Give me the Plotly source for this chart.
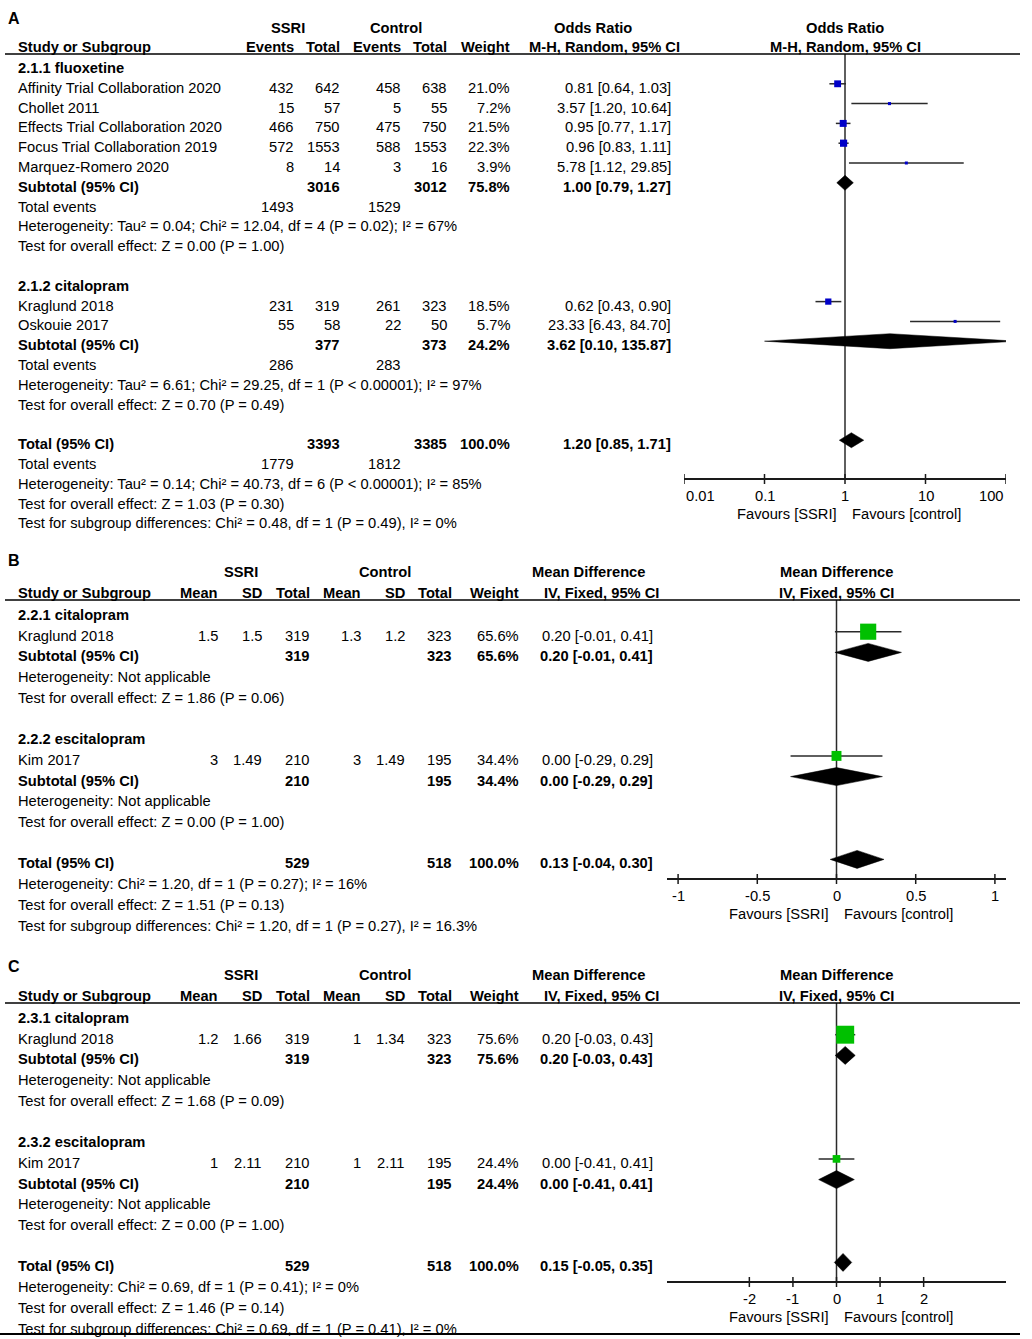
import math
import plotly.graph_objects as go

W, H = 1032, 1339
FONT = "Arial, 'Liberation Sans', sans-serif"
FS = 14.7

# ---------------- A: odds ratio (events) ----------------
a_subgroups = ["2.1.1 fluoxetine", "2.1.2 citalopram"]
a_studies = ["Affinity Trial Collaboration 2020", "Chollet 2011", "Effects Trial Collaboration 2020",
             "Focus Trial Collaboration 2019", "Marquez-Romero 2020", "Kraglund 2018", "Oskouie 2017"]
a_group = [0, 0, 0, 0, 0, 1, 1]
a_ssri_events = [432, 15, 466, 572, 8, 231, 55]
a_ssri_total = [642, 57, 750, 1553, 14, 319, 58]
a_ctrl_events = [458, 5, 475, 588, 3, 261, 22]
a_ctrl_total = [638, 55, 750, 1553, 16, 323, 50]
a_weight = [21.0, 7.2, 21.5, 22.3, 3.9, 18.5, 5.7]
a_or = [0.81, 3.57, 0.95, 0.96, 5.78, 0.62, 23.33]
a_lo = [0.64, 1.20, 0.77, 0.83, 1.12, 0.43, 6.43]
a_hi = [1.03, 10.64, 1.17, 1.11, 29.85, 0.90, 84.70]

a_sub_ssri_total = [3016, 377]
a_sub_ctrl_total = [3012, 373]
a_sub_weight = [75.8, 24.2]
a_sub_ssri_events = [1493, 286]
a_sub_ctrl_events = [1529, 283]
a_sub_or = [1.00, 3.62]
a_sub_lo = [0.79, 0.10]
a_sub_hi = [1.27, 135.87]
a_sub_notes = [
    ["Heterogeneity: Tau² = 0.04; Chi² = 12.04, df = 4 (P = 0.02); I² = 67%",
     "Test for overall effect: Z = 0.00 (P = 1.00)"],
    ["Heterogeneity: Tau² = 6.61; Chi² = 29.25, df = 1 (P &lt; 0.00001); I² = 97%",
     "Test for overall effect: Z = 0.70 (P = 0.49)"],
]
a_tot_vals = [3393, 3385, 100.0]
a_tot_events = [1779, 1812]
a_tot_or, a_tot_lo, a_tot_hi = 1.20, 0.85, 1.71
a_tot_notes = ["Heterogeneity: Tau² = 0.14; Chi² = 40.73, df = 6 (P &lt; 0.00001); I² = 85%",
               "Test for overall effect: Z = 1.03 (P = 0.30)",
               "Test for subgroup differences: Chi² = 0.48, df = 1 (P = 0.49), I² = 0%"]
a_ticks = [0.01, 0.1, 1, 10, 100]
a_tick_text = ["0.01", "0.1", "1", "10", "100"]

# ---------------- B: mean difference ----------------
b_subgroups = ["2.2.1 citalopram", "2.2.2 escitalopram"]
b_studies = ["Kraglund 2018", "Kim 2017"]
b_group = [0, 1]
b_ssri_mean = [1.5, 3]
b_ssri_sd = [1.5, 1.49]
b_ssri_total = [319, 210]
b_ctrl_mean = [1.3, 3]
b_ctrl_sd = [1.2, 1.49]
b_ctrl_total = [323, 195]
b_weight = [65.6, 34.4]
b_md = [0.20, 0.00]
b_lo = [-0.01, -0.29]
b_hi = [0.41, 0.29]
b_sub_ssri_total = [319, 210]
b_sub_ctrl_total = [323, 195]
b_sub_weight = [65.6, 34.4]
b_sub_md = [0.20, 0.00]
b_sub_lo = [-0.01, -0.29]
b_sub_hi = [0.41, 0.29]
b_sub_notes = [["Heterogeneity: Not applicable", "Test for overall effect: Z = 1.86 (P = 0.06)"],
               ["Heterogeneity: Not applicable", "Test for overall effect: Z = 0.00 (P = 1.00)"]]
b_tot_vals = [529, 518, 100.0]
b_tot_md, b_tot_lo, b_tot_hi = 0.13, -0.04, 0.30
b_tot_notes = ["Heterogeneity: Chi² = 1.20, df = 1 (P = 0.27); I² = 16%",
               "Test for overall effect: Z = 1.51 (P = 0.13)",
               "Test for subgroup differences: Chi² = 1.20, df = 1 (P = 0.27), I² = 16.3%"]
b_ticks = [-1, -0.5, 0, 0.5, 1]
b_tick_text = ["-1", "-0.5", "0", "0.5", "1"]

# ---------------- C: mean difference ----------------
c_subgroups = ["2.3.1 citalopram", "2.3.2 escitalopram"]
c_studies = ["Kraglund 2018", "Kim 2017"]
c_group = [0, 1]
c_ssri_mean = [1.2, 1]
c_ssri_sd = [1.66, 2.11]
c_ssri_total = [319, 210]
c_ctrl_mean = [1, 1]
c_ctrl_sd = [1.34, 2.11]
c_ctrl_total = [323, 195]
c_weight = [75.6, 24.4]
c_md = [0.20, 0.00]
c_lo = [-0.03, -0.41]
c_hi = [0.43, 0.41]
c_sub_ssri_total = [319, 210]
c_sub_ctrl_total = [323, 195]
c_sub_weight = [75.6, 24.4]
c_sub_md = [0.20, 0.00]
c_sub_lo = [-0.03, -0.41]
c_sub_hi = [0.43, 0.41]
c_sub_notes = [["Heterogeneity: Not applicable", "Test for overall effect: Z = 1.68 (P = 0.09)"],
               ["Heterogeneity: Not applicable", "Test for overall effect: Z = 0.00 (P = 1.00)"]]
c_tot_vals = [529, 518, 100.0]
c_tot_md, c_tot_lo, c_tot_hi = 0.15, -0.05, 0.35
c_tot_notes = ["Heterogeneity: Chi² = 0.69, df = 1 (P = 0.41); I² = 0%",
               "Test for overall effect: Z = 1.46 (P = 0.14)",
               "Test for subgroup differences: Chi² = 0.69, df = 1 (P = 0.41), I² = 0%"]
c_ticks = [-2, -1, 0, 1, 2]
c_tick_text = ["-2", "-1", "0", "1", "2"]


def fmt_w(w):
    return f"{w:.1f}%"


def fmt_n(v):
    return f"{v:g}"


def fmt_ci(e, lo, hi):
    return f"{e:.2f} [{lo:.2f}, {hi:.2f}]"


md_fmt = [fmt_n, fmt_n, str, fmt_n, fmt_n, str, fmt_w]
md_right = [220, 264, 312, 363, 407, 454, 521]
md_heads = ["Mean", "SD", "Total", "Mean", "SD", "Total", "Weight"]

panels = [
    dict(name="A", xa="x", log=True, null=1, rng=[-2, 2], dom=[684, 1006],
         label_y=18, top_y=28, head_y=47, line_y=54, row0=68, pitch=19.8, axis_y=479,
         grp_cx=[288, 396], eff_cx=[593, 604], eff_right=673,
         eff_title="Odds Ratio", eff_method="M-H, Random, 95% CI",
         col_heads=["Events", "Total", "Events", "Total", "Weight"],
         col_right=[296, 342, 403, 449, 512], col_fmt=[str, str, str, str, fmt_w],
         subgroups=a_subgroups, studies=a_studies, group=a_group,
         cols=[a_ssri_events, a_ssri_total, a_ctrl_events, a_ctrl_total, a_weight],
         weight=a_weight, est=a_or, lo=a_lo, hi=a_hi,
         sub_cols=[1, 3, 4], sub_vals=[a_sub_ssri_total, a_sub_ctrl_total, a_sub_weight],
         ev_cols=[0, 2], sub_events=[a_sub_ssri_events, a_sub_ctrl_events], tot_events=a_tot_events,
         sub_est=a_sub_or, sub_lo=a_sub_lo, sub_hi=a_sub_hi, sub_notes=a_sub_notes,
         tot_vals=a_tot_vals, tot=(a_tot_or, a_tot_lo, a_tot_hi), tot_notes=a_tot_notes,
         ticks=a_ticks, tick_text=a_tick_text, sq_color="#0000c8", dia_h=7.5),
    dict(name="B", xa="x2", log=False, null=0, rng=[-1.07, 1.07], dom=[667, 1006],
         label_y=560, top_y=572, head_y=593, line_y=600, row0=615, pitch=20.7, axis_y=879,
         grp_cx=[241, 385], eff_cx=[588, 601], eff_right=655,
         eff_title="Mean Difference", eff_method="IV, Fixed, 95% CI",
         col_heads=md_heads, col_right=md_right, col_fmt=md_fmt,
         subgroups=b_subgroups, studies=b_studies, group=b_group,
         cols=[b_ssri_mean, b_ssri_sd, b_ssri_total, b_ctrl_mean, b_ctrl_sd, b_ctrl_total, b_weight],
         weight=b_weight, est=b_md, lo=b_lo, hi=b_hi,
         sub_cols=[2, 5, 6], sub_vals=[b_sub_ssri_total, b_sub_ctrl_total, b_sub_weight],
         ev_cols=None, sub_est=b_sub_md, sub_lo=b_sub_lo, sub_hi=b_sub_hi, sub_notes=b_sub_notes,
         tot_vals=b_tot_vals, tot=(b_tot_md, b_tot_lo, b_tot_hi), tot_notes=b_tot_notes,
         ticks=b_ticks, tick_text=b_tick_text, sq_color="#00c000", dia_h=9),
    dict(name="C", xa="x3", log=False, null=0, rng=[-3.89, 3.89], dom=[667, 1006],
         label_y=966, top_y=975, head_y=996, line_y=1003, row0=1018, pitch=20.7, axis_y=1282,
         grp_cx=[241, 385], eff_cx=[588, 601], eff_right=655,
         eff_title="Mean Difference", eff_method="IV, Fixed, 95% CI",
         col_heads=md_heads, col_right=md_right, col_fmt=md_fmt,
         subgroups=c_subgroups, studies=c_studies, group=c_group,
         cols=[c_ssri_mean, c_ssri_sd, c_ssri_total, c_ctrl_mean, c_ctrl_sd, c_ctrl_total, c_weight],
         weight=c_weight, est=c_md, lo=c_lo, hi=c_hi,
         sub_cols=[2, 5, 6], sub_vals=[c_sub_ssri_total, c_sub_ctrl_total, c_sub_weight],
         ev_cols=None, sub_est=c_sub_md, sub_lo=c_sub_lo, sub_hi=c_sub_hi, sub_notes=c_sub_notes,
         tot_vals=c_tot_vals, tot=(c_tot_md, c_tot_lo, c_tot_hi), tot_notes=c_tot_notes,
         ticks=c_ticks, tick_text=c_tick_text, sq_color="#00c000", dia_h=9),
]

fig = go.Figure()
ann = []
shapes = []
axes = {}


def put(x, y, s, anchor="left", bold=False, xref="paper", size=FS, xshift=0):
    ann.append(dict(x=x / W if xref == "paper" else x, y=y, xref=xref, yref="y",
                    text=f"<b>{s}</b>" if bold else s, showarrow=False, xshift=xshift,
                    xanchor=anchor, yanchor="middle",
                    font=dict(family=FONT, size=size, color="black")))


def draw(p):
    xa = p["xa"]
    ry = lambda r: p["row0"] + p["pitch"] * r      # text row centre
    my = lambda r: ry(r) - 4                        # marks sit a bit above the text
    ax_x = (lambda v: math.log10(v)) if p["log"] else (lambda v: v)

    put(6, p["label_y"], p["name"], bold=True, size=16)
    for s, cx in zip(["SSRI", "Control"], p["grp_cx"]):
        put(cx, p["top_y"], s, "center", True)
    put(p["eff_cx"][0], p["top_y"], p["eff_title"], "center", True)
    put(ax_x(p["null"]), p["top_y"], p["eff_title"], "center", True, xref=xa)
    put(16, p["head_y"], "Study or Subgroup", bold=True)
    for s, xr in zip(p["col_heads"], p["col_right"]):
        put(xr, p["head_y"], s, "right", True)
    put(p["eff_cx"][1], p["head_y"], p["eff_method"], "center", True)
    put(ax_x(p["null"]), p["head_y"], p["eff_method"], "center", True, xref=xa)
    shapes.append(dict(type="line", xref="paper", yref="y", x0=5 / W, x1=1020 / W,
                       y0=p["line_y"], y1=p["line_y"], line=dict(color="black", width=1.5)))

    sq_x, sq_y, sq_s = [], [], []
    ci_x, ci_y = [], []
    dia = []
    r = 0
    for g, gname in enumerate(p["subgroups"]):
        put(16, ry(r), gname, bold=True)
        r += 1
        for i, st in enumerate(p["studies"]):
            if p["group"][i] != g:
                continue
            put(16, ry(r), st)
            for vals, xr, fmt in zip(p["cols"], p["col_right"], p["col_fmt"]):
                put(xr, ry(r), fmt(vals[i]), "right")
            put(p["eff_right"], ry(r), fmt_ci(p["est"][i], p["lo"][i], p["hi"][i]), "right")
            sq_x.append(p["est"][i])
            sq_y.append(my(r))
            sq_s.append(max(3, 0.7 * p["weight"][i] ** 0.75))
            ci_x += [p["lo"][i], p["hi"][i], None]
            ci_y += [my(r), my(r), None]
            r += 1
        put(16, ry(r), "Subtotal (95% CI)", bold=True)
        for k, vals in zip(p["sub_cols"], p["sub_vals"]):
            put(p["col_right"][k], ry(r), p["col_fmt"][k](vals[g]), "right", True)
        put(p["eff_right"], ry(r), fmt_ci(p["sub_est"][g], p["sub_lo"][g], p["sub_hi"][g]), "right", True)
        dia.append((p["sub_lo"][g], p["sub_est"][g], p["sub_hi"][g], my(r)))
        r += 1
        if p["ev_cols"]:
            put(16, ry(r), "Total events")
            for k, vals in zip(p["ev_cols"], p["sub_events"]):
                put(p["col_right"][k], ry(r), str(vals[g]), "right")
            r += 1
        for note in p["sub_notes"][g]:
            put(16, ry(r), note)
            r += 1
        r += 1
    put(16, ry(r), "Total (95% CI)", bold=True)
    for k, v in zip(p["sub_cols"], p["tot_vals"]):
        put(p["col_right"][k], ry(r), p["col_fmt"][k](v), "right", True)
    put(p["eff_right"], ry(r), fmt_ci(*p["tot"]), "right", True)
    dia.append((p["tot"][1], p["tot"][0], p["tot"][2], my(r)))
    r += 1
    if p["ev_cols"]:
        put(16, ry(r), "Total events")
        for k, v in zip(p["ev_cols"], p["tot_events"]):
            put(p["col_right"][k], ry(r), str(v), "right")
        r += 1
    for note in p["tot_notes"]:
        put(16, ry(r), note)
        r += 1

    # null line
    fig.add_trace(go.Scatter(x=[p["null"], p["null"]], y=[p["line_y"], p["axis_y"]], mode="lines",
                             xaxis=xa, yaxis="y", line=dict(color="#2a2a2a", width=1.5), hoverinfo="skip"))
    # confidence intervals
    fig.add_trace(go.Scatter(x=ci_x, y=ci_y, mode="lines", xaxis=xa, yaxis="y",
                             line=dict(color="#2a2a2a", width=1.5), hoverinfo="skip"))
    # study squares
    fig.add_trace(go.Scatter(x=sq_x, y=sq_y, mode="markers", xaxis=xa, yaxis="y",
                             marker=dict(symbol="square", size=sq_s, color=p["sq_color"],
                                         opacity=1, line=dict(width=0))))
    # pooled diamonds
    dx, dy = [], []
    h = p["dia_h"]
    for lo, est, hi, y in dia:
        dx += [lo, est, hi, est, lo, None]
        dy += [y, y - h, y, y + h, y, None]
    fig.add_trace(go.Scatter(x=dx, y=dy, mode="lines", fill="toself", fillcolor="black",
                             xaxis=xa, yaxis="y", line=dict(color="black", width=0.5), hoverinfo="skip"))
    # tick marks crossing the axis line, labels kept inside the axis span
    tx, ty = [], []
    lo_end, hi_end = (10 ** v for v in p["rng"]) if p["log"] else p["rng"]
    for t, lab in zip(p["ticks"], p["tick_text"]):
        tx += [t, t, None]
        ty += [p["axis_y"] - 5, p["axis_y"] + 5, None]
        anchor = "left" if t <= lo_end else ("right" if t >= hi_end else "center")
        put(ax_x(t), p["axis_y"] + 17, lab, anchor, xref=xa)
    fig.add_trace(go.Scatter(x=tx, y=ty, mode="lines", xaxis=xa, yaxis="y",
                             line=dict(color="#1a1a1a", width=1.5), hoverinfo="skip"))

    put(ax_x(p["null"]), p["axis_y"] + 35, "Favours [SSRI]", "right", xref=xa, xshift=-6)
    put(ax_x(p["null"]), p["axis_y"] + 35, "Favours [control]", "left", xref=xa, xshift=5)

    key = "xaxis" if xa == "x" else "xaxis" + xa[1:]
    axes[key] = dict(type="log" if p["log"] else "linear", range=p["rng"], automargin=False,
                     domain=[p["dom"][0] / W, p["dom"][1] / W], anchor="free",
                     position=1 - p["axis_y"] / H, showline=True, linecolor="#1a1a1a", linewidth=1.5,
                     ticks="", showticklabels=False,
                     showgrid=False, zeroline=False, fixedrange=True)


for p in panels:
    draw(p)

shapes.append(dict(type="line", xref="paper", yref="y", x0=0, x1=1020 / W, y0=1334, y1=1334,
                   line=dict(color="black", width=2)))

fig.update_layout(
    template="none",
    width=W, height=H, margin=dict(l=0, r=0, t=0, b=0, pad=0, autoexpand=False),
    paper_bgcolor="white", plot_bgcolor="rgba(0,0,0,0)", showlegend=False,
    yaxis=dict(range=[H, 0], domain=[0, 1], visible=False, fixedrange=True, automargin=False),
    annotations=ann, shapes=shapes, **axes)

# the page's default body margin would push the figure 8px down and right
fig.write_html("out.html", config={"displayModeBar": False},
               post_script="document.body.style.margin = '0px';")
